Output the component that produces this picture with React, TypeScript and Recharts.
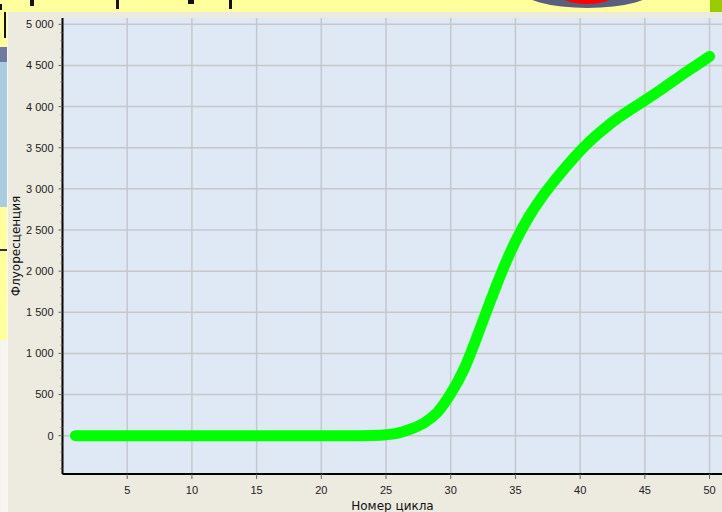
import React from 'react';
import { LineChart, Line, XAxis, YAxis, CartesianGrid, Label } from 'recharts';

// PCR amplification curve, one reading per cycle
const cycles = [
  1, 2, 3, 4, 5, 6, 7, 8, 9, 10, 11, 12, 13, 14, 15, 16, 17, 18, 19, 20, 21, 22, 23, 24, 25,
  26, 27, 28, 29, 30, 31, 32, 33, 34, 35, 36, 37, 38, 39, 40, 41, 42, 43, 44, 45, 46, 47, 48, 49, 50,
];
const fluorescence = [
  0, 0, 0, 0, 0, 0, 0, 0, 0, 0, 0, 0, 0, 0, 0, 0, 0, 0, 0, 0, 0, 0, 0, 2, 12,
  35, 85, 160, 290, 510, 800, 1190, 1610, 2010, 2360, 2650, 2890, 3095, 3285, 3460,
  3615, 3750, 3870, 3975, 4075, 4180, 4290, 4400, 4505, 4610,
];
const xTicks = [5, 10, 15, 20, 25, 30, 35, 40, 45, 50];
const yMajorTicks = [0, 500, 1000, 1500, 2000, 2500, 3000, 3500, 4000, 4500, 5000];
const yTicks = Array.from({ length: 55 }, (_, i) => -400 + i * 100);

const data = cycles.map((c, i) => ({ cycle: c, value: fluorescence[i] }));

const TICK_FONT = '"Liberation Sans", Arial, sans-serif';
const TITLE_FONT = '"DejaVu Sans", Verdana, sans-serif';

const fmt = (v: number) =>
  v >= 1000 ? `${Math.floor(v / 1000)} ${String(v % 1000).padStart(3, '0')}` : String(v);

const YTick = (props: any) => {
  const { x, y, payload } = props;
  const axisX = x + 9;
  const major = payload.value % 500 === 0;
  return (
    <g>
      <line x1={axisX - (major ? 4 : 2)} x2={axisX} y1={y} y2={y} stroke="#666" strokeWidth={1} />
      {major && (
        <text x={x} y={y} dy="0.36em" textAnchor="end" fontSize={11} fontFamily={TICK_FONT} fill="#222">
          {fmt(payload.value)}
        </text>
      )}
    </g>
  );
};

const block = (s: React.CSSProperties): React.CSSProperties => ({ position: 'absolute', ...s });

export default function App() {
  return (
    <div style={block({ left: 0, top: 0, width: 722, height: 512, overflow: 'hidden', background: '#EDEAE0' })}>
      {/* bits of the windows behind */}
      <div style={block({ left: 0, top: 0, width: 722, height: 12, background: '#FFFF9C' })} />
      <div style={block({ left: 0, top: 12, width: 7, height: 35, background: '#FFFF9C' })} />
      <div style={block({ left: 0, top: 47, width: 7, height: 15, background: '#6E7AA0' })} />
      <div style={block({ left: 0, top: 62, width: 7, height: 145, background: '#A9CCE0' })} />
      <div style={block({ left: 0, top: 207, width: 7, height: 133, background: '#FFFF9C' })} />
      <div style={block({ left: 0, top: 249, width: 7, height: 2, background: '#333' })} />
      <div style={block({ left: 0, top: 340, width: 7, height: 172, background: '#F6F5F0' })} />
      <div style={block({ left: 0, top: 4, width: 2, height: 6, background: '#111' })} />
      <div style={block({ left: 4, top: 12, width: 2, height: 26, background: '#111' })} />
      <div style={block({ left: 30, top: 0, width: 4, height: 6, background: '#111' })} />
      <div style={block({ left: 116, top: 0, width: 3, height: 9, background: '#111' })} />
      <div style={block({ left: 188, top: 0, width: 6, height: 4, background: '#111' })} />
      <div style={block({ left: 229, top: 0, width: 3, height: 9, background: '#111' })} />
      <div style={block({ left: 520, top: -30, width: 135, height: 38, borderRadius: '50%', background: '#5A5F7E' })} />
      <div style={block({ left: 552, top: -30, width: 70, height: 34, borderRadius: '50%', background: '#FF0000' })} />
      <div style={block({ left: 710, top: 0, width: 12, height: 12, background: '#99CC00' })} />
      <div style={block({ left: 7, top: 12, width: 715, height: 500, background: '#EDEAE0', borderLeft: '1px solid #F8F7F2' })} />

      <div style={block({ left: 0, top: 0 })}>
        <LineChart width={730} height={512} data={data} margin={{ top: 18, right: 7.5, left: 0, bottom: 0 }}>
          <CartesianGrid
            fill="#DEE9F5"
            stroke="#C7C7CB"
            strokeWidth={1.5}
            horizontalValues={yMajorTicks}
            verticalValues={xTicks}
          />
          <XAxis
            dataKey="cycle"
            type="number"
            domain={[0, 51]}
            ticks={xTicks}
            interval={0}
            height={38}
            tickSize={5}
            tickMargin={7}
            axisLine={{ stroke: '#000', strokeWidth: 2 }}
            tickLine={{ stroke: '#666' }}
            tick={{ fontSize: 11, fontFamily: TICK_FONT, fill: '#222' }}
          >
            <Label value="Номер цикла" position="insideBottom" offset={2} fontSize={12} fontFamily={TITLE_FONT} fill="#111" />
          </XAxis>
          <XAxis
            xAxisId="top"
            orientation="top"
            dataKey="cycle"
            type="number"
            domain={[0, 51]}
            height={0}
            tick={false}
            tickLine={false}
            axisLine={{ stroke: '#444', strokeWidth: 1.5 }}
          />
          <YAxis
            type="number"
            domain={[-466, 5077]}
            ticks={yTicks}
            interval={0}
            width={62.5}
            tickSize={4}
            tickMargin={5}
            tickLine={false}
            axisLine={{ stroke: '#000', strokeWidth: 2 }}
            tick={<YTick />}
          >
            <Label
              content={({ viewBox }: any) => {
                const cy = viewBox.y + viewBox.height / 2;
                const cx = 16;
                return (
                  <text
                    x={cx}
                    y={cy}
                    transform={`rotate(-90, ${cx}, ${cy})`}
                    textAnchor="middle"
                    dominantBaseline="central"
                    fontSize={12}
                    fontFamily={TITLE_FONT}
                    fill="#111"
                  >
                    Флуоресценция
                  </text>
                );
              }}
            />
          </YAxis>
          <Line
            type="monotone"
            dataKey="value"
            stroke="#00FF00"
            strokeWidth={11}
            strokeLinecap="round"
            strokeLinejoin="round"
            dot={false}
            isAnimationActive={false}
          />
        </LineChart>
      </div>
    </div>
  );
}
